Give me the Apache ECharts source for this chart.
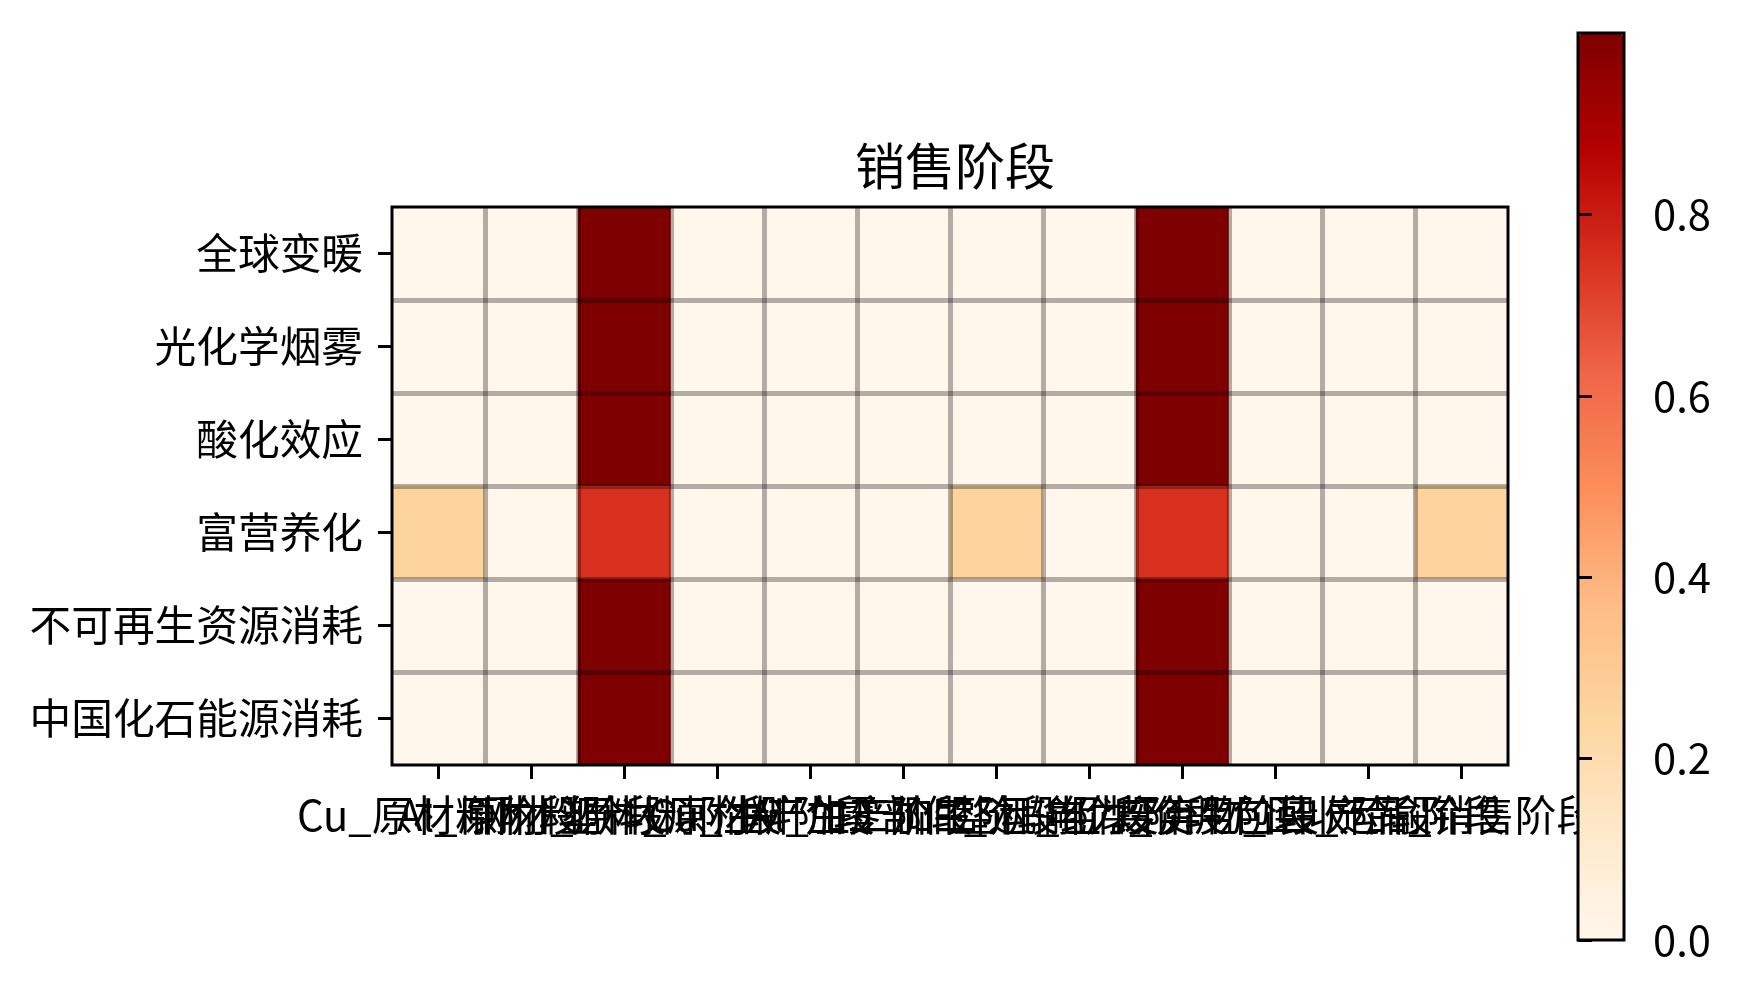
<!DOCTYPE html>
<html>
<head>
<meta charset="utf-8">
<script src="https://cdn.jsdelivr.net/npm/echarts@6/dist/echarts.min.js"></script>
<style>html,body{margin:0;padding:0;background:#fff}#c{width:1745px;height:989px}</style>
</head>
<body>
<div id="c"></div>
<script>
const titleText = "销售阶段";
const rowLabels = ["全球变暖", "光化学烟雾", "酸化效应", "富营养化", "不可再生资源消耗", "中国化石能源消耗"];
const colLabels = ["Cu_原材料阶段", "Al_原材料阶段", "钢材_原材料阶段", "塑料_原材料阶段", "Cu_生产加工阶段", "Al_生产加工阶段",
                   "零部件_运输阶段", "整机_组装阶段", "电力_使用阶段", "废弃物_回收阶段", "包装_运输阶段", "产品_销售阶段"];
const rowGlobalWarming = [0, 0, 1, 0, 0, 0, 0, 0, 1, 0, 0, 0];
const rowSmog          = [0, 0, 1, 0, 0, 0, 0, 0, 1, 0, 0, 0];
const rowAcid          = [0, 0, 1, 0, 0, 0, 0, 0, 1, 0, 0, 0];
const rowEutroph       = [0.25, 0, 0.75, 0, 0, 0, 0.25, 0, 0.75, 0, 0, 0.25];
const rowNonRenew      = [0, 0, 1, 0, 0, 0, 0, 0, 1, 0, 0, 0];
const rowFossil        = [0, 0, 1, 0, 0, 0, 0, 0, 1, 0, 0, 0];
const colorbarTicks = [0, 0.2, 0.4, 0.6, 0.8];
const orRd = ['#fff7ec','#fee8c8','#fdd49e','#fdbb84','#fc8d59','#ef6548','#d7301f','#b30000','#7f0000'];

const rows = [rowGlobalWarming, rowSmog, rowAcid, rowEutroph, rowNonRenew, rowFossil];
const data = [];
rows.forEach((r, yi) => r.forEach((v, xi) => data.push([xi, yi, v])));

const FONT = '"Noto Sans CJK SC", "Noto Sans", sans-serif';
const FS = 41.7;

const chart = echarts.init(document.getElementById('c'), null, {renderer: 'canvas'});
chart.setOption({
  backgroundColor: '#fff',
  animation: false,
  title: {
    text: titleText, left: 950, textAlign: 'center', top: 136,
    textStyle: {fontFamily: FONT, fontSize: 50, fontWeight: 'normal', color: '#000'}
  },
  grid: [
    {left: 392, top: 207, width: 1116, height: 558, show: true, borderColor: '#000', borderWidth: 3, backgroundColor: 'transparent', z: 11},
    {left: 1578, top: 33, width: 46, height: 907, show: true, borderColor: '#000', borderWidth: 3, backgroundColor: 'transparent', z: 21}
  ],
  xAxis: [
    {
      type: 'category', data: colLabels, gridIndex: 0, z: 10,
      axisLine: {show: false},
      axisTick: {show: true, alignWithLabel: true, length: 14, lineStyle: {color: '#000', width: 3}},
      axisLabel: {interval: 0, hideOverlap: false, margin: 29, fontFamily: FONT, fontSize: FS, color: '#000'},
      splitLine: {show: true, showMinLine: false, showMaxLine: false, lineStyle: {color: 'rgba(0,0,0,0.3)', width: 5}}
    },
    {type: 'value', gridIndex: 1, show: false, min: 0, max: 1}
  ],
  yAxis: [
    {
      type: 'category', data: rowLabels, gridIndex: 0, inverse: true, z: 10,
      axisLine: {show: false},
      axisTick: {show: true, alignWithLabel: true, length: 14, lineStyle: {color: '#000', width: 3}},
      axisLabel: {interval: 0, margin: 29, fontFamily: FONT, fontSize: FS, color: '#000'},
      splitLine: {show: true, showMinLine: false, showMaxLine: false, lineStyle: {color: 'rgba(0,0,0,0.3)', width: 5}}
    },
    {
      type: 'value', gridIndex: 1, position: 'right', min: 0, max: 1, z: 22,
      axisLine: {show: false},
      axisTick: {show: true, length: 14, customValues: colorbarTicks, lineStyle: {color: '#000', width: 3}},
      axisLabel: {margin: 29, customValues: colorbarTicks, fontFamily: FONT, fontSize: FS, color: '#000',
                  formatter: v => v.toFixed(1)},
      splitLine: {show: false}
    }
  ],
  visualMap: {
    type: 'continuous', min: 0, max: 1, calculable: false, orient: 'vertical',
    left: 1579, top: 34, itemWidth: 44, itemHeight: 905, padding: 0,
    seriesIndex: 0, inRange: {color: orRd}, z: 20, text: null, hoverLink: false
  },
  series: [{
    type: 'heatmap', xAxisIndex: 0, yAxisIndex: 0, data: data,
    itemStyle: {borderWidth: 0},
    emphasis: {disabled: true}
  }]
});
</script>
</body>
</html>
